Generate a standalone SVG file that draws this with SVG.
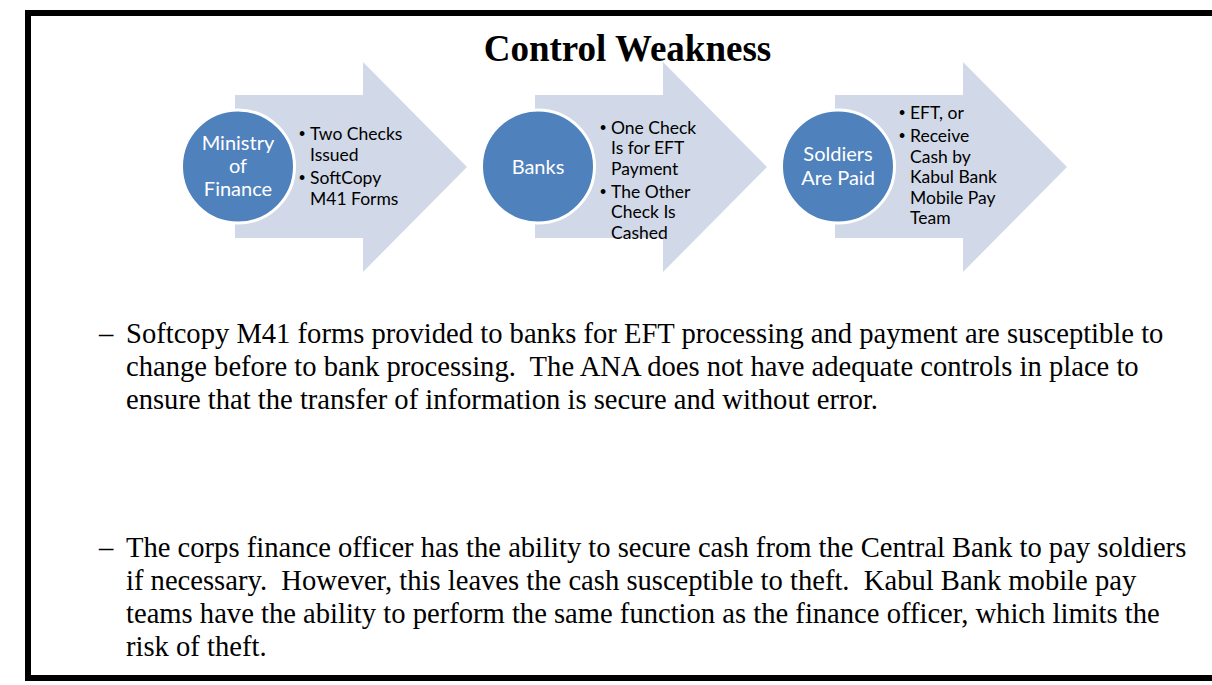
<svg xmlns="http://www.w3.org/2000/svg" width="1212" height="685" viewBox="0 0 1212 685">
<style>
.arrow{fill:#D1D9E8;}
.circ{fill:#4F81BD;stroke:#FFFFFF;stroke-width:3;}
.ct{font-family:Lato,"Liberation Sans",sans-serif;font-size:20px;fill:#FFFFFF;text-anchor:middle;}
.bt{font-family:Lato,"Liberation Sans",sans-serif;font-size:17.5px;fill:#000000;}
.bu{font-family:"Liberation Sans",sans-serif;font-size:17.5px;fill:#000000;}
.title{font-family:"Liberation Serif","Times New Roman",serif;font-size:37px;font-weight:bold;fill:#000;text-anchor:middle;}
.para{font-family:"Liberation Serif","Times New Roman",serif;font-size:28.6px;fill:#000;}
</style>
<defs>
<path id="arr" d="M235,95 H363 V62 L467,167 L363,272 V238 H235 Z"/>
</defs>
<rect x="28" y="13" width="1200" height="665" fill="none" stroke="#000" stroke-width="6"/>
<text class="title" x="627.5" y="61">Control Weakness</text>
<g id="connectors">
<use href="#arr" class="arrow"/>
<use href="#arr" class="arrow" transform="translate(300,0)"/>
<use href="#arr" class="arrow" transform="translate(600,0)"/>
</g>
<g id="node-ministry">
<circle class="circ" cx="238" cy="166.5" r="56.5"/>
<text class="ct" x="238" y="150">Ministry</text>
<text class="ct" x="238" y="173">of</text>
<text class="ct" x="238" y="196">Finance</text>
<text class="bu" x="299" y="140">•</text><text class="bt" x="310" y="140">Two Checks</text>
<text class="bt" x="310" y="161">Issued</text>
<text class="bu" x="299" y="183.5">•</text><text class="bt" x="310" y="183.5">SoftCopy</text>
<text class="bt" x="310" y="204.5">M41 Forms</text>
</g>
<g id="node-banks">
<circle class="circ" cx="538" cy="166.5" r="56.5"/>
<text class="ct" x="538" y="173.5">Banks</text>
<text class="bu" x="600" y="133.5">•</text><text class="bt" x="611" y="133.5">One Check</text>
<text class="bt" x="611" y="154">Is for EFT</text>
<text class="bt" x="611" y="174.5">Payment</text>
<text class="bu" x="600" y="197.5">•</text><text class="bt" x="611" y="197.5">The Other</text>
<text class="bt" x="611" y="218">Check Is</text>
<text class="bt" x="611" y="238.5">Cashed</text>
</g>
<g id="node-soldiers">
<circle class="circ" cx="838" cy="166.5" r="56.5"/>
<text class="ct" x="838" y="161">Soldiers</text>
<text class="ct" x="838" y="185">Are Paid</text>
<text class="bu" x="899" y="119">•</text><text class="bt" x="910" y="119">EFT, or</text>
<text class="bu" x="899" y="142">•</text><text class="bt" x="910" y="142">Receive</text>
<text class="bt" x="910" y="162.5">Cash by</text>
<text class="bt" x="910" y="183">Kabul Bank</text>
<text class="bt" x="910" y="203.5">Mobile Pay</text>
<text class="bt" x="910" y="224">Team</text>
</g>
<g id="text-body">
<text class="para" x="99" y="343">–</text>
<text class="para" x="126" y="343">Softcopy M41 forms provided to banks for EFT processing and payment are susceptible to</text>
<text class="para" x="126" y="376">change before to bank processing.&#160; The ANA does not have adequate controls in place to</text>
<text class="para" x="126" y="409">ensure that the transfer of information is secure and without error.</text>
<text class="para" x="99" y="557">–</text>
<text class="para" x="126" y="557">The corps finance officer has the ability to secure cash from the Central Bank to pay soldiers</text>
<text class="para" x="126" y="590">if necessary.&#160; However, this leaves the cash susceptible to theft.&#160; Kabul Bank mobile pay</text>
<text class="para" x="126" y="623">teams have the ability to perform the same function as the finance officer, which limits the</text>
<text class="para" x="126" y="656">risk of theft.</text>
</g>
</svg>
